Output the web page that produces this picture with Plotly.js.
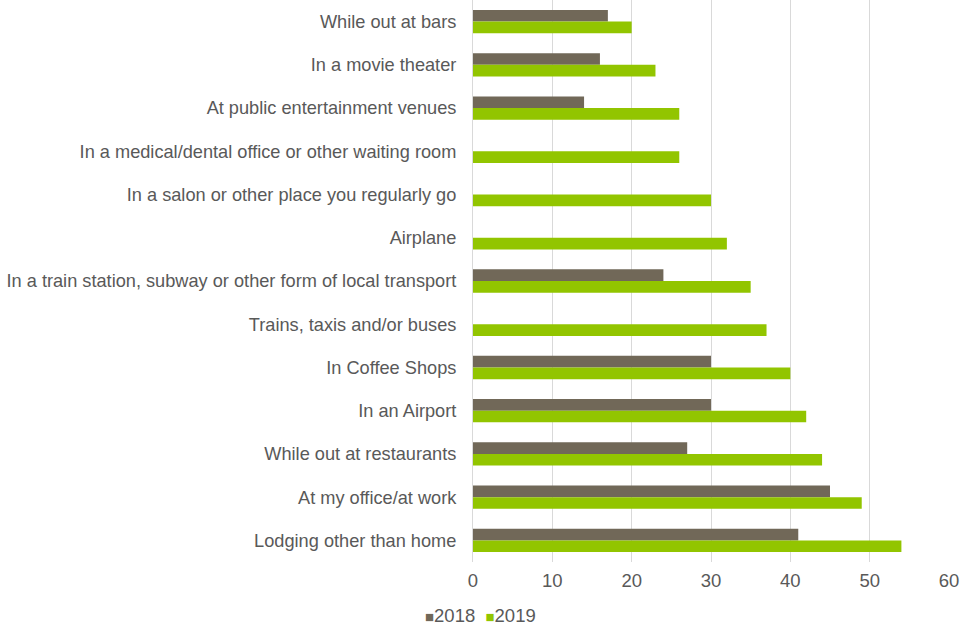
<!DOCTYPE html>
<html><head><meta charset="utf-8">
<script src="https://cdn.plot.ly/plotly-3.0.1.min.js"></script>
<style>html,body{margin:0;padding:0;background:#fff;}#chart{width:960px;height:625px;}</style>
</head><body><div id="chart"></div>
<script>
const categories = [
  "While out at bars",
  "In a movie theater",
  "At public entertainment venues",
  "In a medical/dental office or other waiting room",
  "In a salon or other place you regularly go",
  "Airplane",
  "In a train station, subway or other form of local transport",
  "Trains, taxis and/or buses",
  "In Coffee Shops",
  "In an Airport",
  "While out at restaurants",
  "At my office/at work",
  "Lodging other than home"
];
const seriesNames = ["2018", "2019"];
const seriesColors = ["#716858", "#92c500"];
const values2018 = [17, 16, 14, null, null, null, 24, null, 30, 30, 27, 45, 41];
const values2019 = [20, 23, 26, 26, 30, 32, 35, 37, 40, 42, 44, 49, 54];
const xTicks = [0, 10, 20, 30, 40, 50, 60];

const font = {family: "Liberation Sans, Arial, sans-serif", size: 18.5, color: "#595959"};
const yfont = {family: "Liberation Sans, Arial, sans-serif", size: 18.2, color: "#595959"};
const data = [
  {type: "bar", orientation: "h", name: seriesNames[0], y: categories, x: values2018,
   marker: {color: seriesColors[0]}, hoverinfo: "x+y"},
  {type: "bar", orientation: "h", name: seriesNames[1], y: categories, x: values2019,
   marker: {color: seriesColors[1]}, hoverinfo: "x+y"}
];
const legendText = seriesNames.map((n, i) =>
  `<span style="color:${seriesColors[i]};font-size:15px">■</span>${n}`).join("&nbsp;&nbsp;");
const layout = {
  width: 960, height: 625,
  margin: {l: 473, r: 11, t: 0, b: 63, autoexpand: false},
  paper_bgcolor: "#ffffff", plot_bgcolor: "#ffffff",
  font: font,
  barmode: "group", bargap: 0.46, bargroupgap: 0,
  xaxis: {range: [0, 60], tickvals: xTicks, showgrid: true, gridcolor: "#d9d9d9", gridwidth: 1,
          zeroline: false, showline: false, ticks: "", tickfont: font, ticklabelstandoff: 5},
  yaxis: {type: "category", autorange: "reversed", showgrid: false, zeroline: false,
          showline: true, linecolor: "#d9d9d9", linewidth: 1, ticks: "", tickfont: yfont,
          ticklabelstandoff: 12},
  showlegend: false,
  annotations: [{xref: "paper", yref: "paper", x: 0.0168, y: -0.096, xanchor: "center", yanchor: "middle",
                 text: legendText, showarrow: false, font: font}]
};
Plotly.newPlot("chart", data, layout, {displayModeBar: false, staticPlot: true});
</script></body></html>
